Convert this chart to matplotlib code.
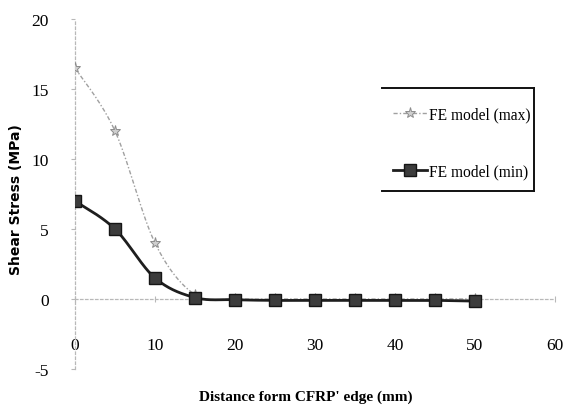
import numpy as np
import matplotlib
matplotlib.use("Agg")
import matplotlib.pyplot as plt
from matplotlib.lines import Line2D

# Shear stress along the bond line, FE results
distance_mm = [0, 5, 10, 15, 20, 25, 30, 35, 40, 45, 50]
stress_max = [16.5, 12.0, 4.0, 0.3, 0.0, 0.0, 0.0, 0.0, 0.0, 0.0, 0.0]
stress_min = [7.0, 5.0, 1.5, 0.1, -0.05, -0.1, -0.1, -0.1, -0.1, -0.1, -0.15]

x_ticks = [0, 10, 20, 30, 40, 50, 60]
x_ticklabels = ["0", "10", "20", "30", "40", "50", "60"]
y_ticks = [-5, 0, 5, 10, 15, 20]
y_ticklabels = ["-5", "0", "5", "10", "15", "20"]

label_max = "FE model (max)"
label_min = "FE model (min)"
x_title = "Distance form CFRP' edge (mm)"
y_title = "Shear Stress (MPa)"


def smooth(xs, ys, n=30):
    """Spreadsheet-style smoothed line (cubic Bezier, tension 1/6)."""
    p = np.column_stack([xs, ys]).astype(float)
    out = []
    m = len(p)
    t = np.linspace(0, 1, n)[:, None]
    for i in range(m - 1):
        p0 = p[i]
        p3 = p[i + 1]
        pm = p[i - 1] if i > 0 else p[i]
        pp = p[i + 2] if i + 2 < m else p[i + 1]
        c1 = p0 + (p3 - pm) / 6.0
        c2 = p3 - (pp - p0) / 6.0
        seg = ((1 - t) ** 3) * p0 + 3 * ((1 - t) ** 2) * t * c1 + 3 * (1 - t) * t ** 2 * c2 + t ** 3 * p3
        out.append(seg if i == 0 else seg[1:])
    s = np.vstack(out)
    return s[:, 0], s[:, 1]


serif = ["Liberation Serif", "DejaVu Serif"]
plt.rcParams["font.family"] = serif

fig = plt.figure(figsize=(5.66, 4.14), dpi=100)
ax = fig.add_axes([75 / 566, 44 / 414, 480 / 566, 350 / 414])
ax.set_xlim(0, 60)
ax.set_ylim(-5, 20)

for side in ("top", "right"):
    ax.spines[side].set_visible(False)
ax.spines["bottom"].set_position(("data", 0))
ax.spines["left"].set_position(("data", 0))
for side in ("bottom", "left"):
    ax.spines[side].set_color("#b8b8b8")
    ax.spines[side].set_linestyle((0, (2, 2)))
    ax.spines[side].set_linewidth(0.9)

ax.set_xticks(x_ticks)
ax.set_xticklabels(x_ticklabels)
ax.set_yticks(y_ticks)
ax.set_yticklabels(y_ticklabels)
ax.tick_params(axis="x", direction="inout", length=5, width=0.8, color="#b8b8b8",
               pad=25, labelsize=12.5)
ax.tick_params(axis="y", direction="out", length=3, width=0.8, color="#b8b8b8",
               pad=16, labelsize=12.5)

max_style = dict(color="#a0a0a0", lw=1.0, ls=(0, (3, 1.5, 1, 1.5)))
max_marker = dict(marker="*", ms=8, mfc="#cfcfcf", mec="#8c8c8c", mew=0.7)
min_style = dict(color="#1e1e1e", lw=2.0)
min_marker = dict(marker="s", ms=9, mfc="#3c3c3c", mec="#151515", mew=1.0)

# max series: light dotted line with star markers
sx, sy = smooth(distance_mm, stress_max)
ax.plot(sx, sy, zorder=2, **max_style)
ax.plot(distance_mm, stress_max, ls="none", zorder=3, **max_marker)

# min series: heavy dark line with square markers
mx, my = smooth(distance_mm, stress_min)
ax.plot(mx, my, zorder=4, **min_style)
ax.plot(distance_mm, stress_min, ls="none", zorder=5, **min_marker)

ax.set_xlabel(x_title, fontsize=11, fontweight="bold", labelpad=0)
ax.xaxis.set_label_coords(0.48, -0.058)
fig.text(16 / 566, 1 - 200 / 414, y_title, rotation=90, ha="center", va="center",
         fontsize=10, fontweight="bold", family=["DejaVu Sans"])

# legend
handles = [Line2D([], [], **max_style, **max_marker),
           Line2D([], [], **min_style, **min_marker)]
fig.legend(handles, [label_max, label_min], loc="upper left",
           bbox_to_anchor=(382 / 566, 1 - 97 / 414), frameon=False, fontsize=11.2,
           handlelength=2.2, handletextpad=0.15, labelspacing=2.6, borderpad=0.2)

# legend frame (top, right and bottom edges)
L, R, T, B = 382 / 566, 534 / 566, 1 - 89 / 414, 1 - 192 / 414
for xs_, ys_ in (([L, R], [T, T]), ([R, R], [T, B]), ([L, R], [B, B])):
    fig.add_artist(Line2D(xs_, ys_, color="#111111", lw=1.4, transform=fig.transFigure))

fig.savefig("out.png", dpi=100, facecolor="white")
